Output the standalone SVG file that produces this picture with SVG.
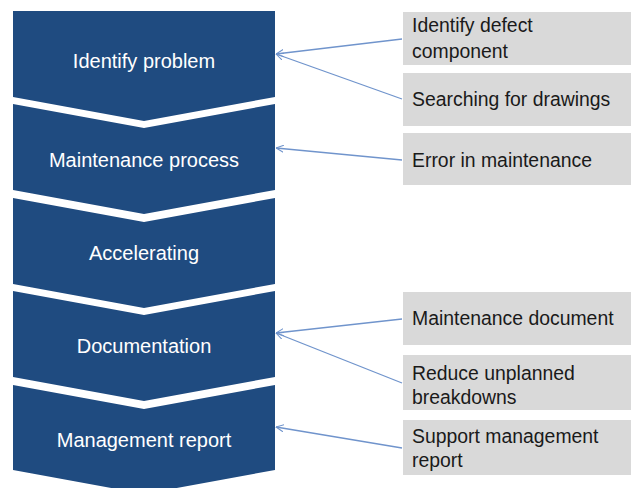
<svg xmlns="http://www.w3.org/2000/svg" width="633" height="488" viewBox="0 0 633 488">
  <defs>
    <style>
      .step { fill: #1f4b80; }
      .step-label { font-family: "Liberation Sans", Arial, sans-serif; font-size: 20px; fill: #ffffff; text-anchor: middle; }
      .note { fill: #d9d9d9; }
      .note-label { font-family: "Liberation Sans", Arial, sans-serif; font-size: 19.4px; fill: #1a1a1a; }
      .link { stroke: #7094cc; stroke-width: 1.3; fill: none; marker-end: url(#open-arrow); }
    </style>
    <marker id="open-arrow" viewBox="0 0 10 10" refX="9.5" refY="5" markerWidth="8" markerHeight="8" markerUnits="userSpaceOnUse" orient="auto">
      <path d="M0,0.5 L9.5,5 L0,9.5" fill="none" stroke="#7094cc" stroke-width="1.3"/>
    </marker>
  </defs>

  <!-- process chevrons -->
  <g id="step-identify-problem">
    <path class="step" d="M13,11 H275 V97 L144,121 L13,97 Z"/>
    <text class="step-label" x="144" y="68">Identify problem</text>
  </g>
  <g id="step-maintenance-process">
    <path class="step" d="M13,104 L144,128 L275,104 V190 L144,214 L13,190 Z"/>
    <text class="step-label" x="144" y="167">Maintenance process</text>
  </g>
  <g id="step-accelerating">
    <path class="step" d="M13,198 L144,222 L275,198 V284 L144,308 L13,284 Z"/>
    <text class="step-label" x="144" y="260">Accelerating</text>
  </g>
  <g id="step-documentation">
    <path class="step" d="M13,291 L144,315 L275,291 V377 L144,401 L13,377 Z"/>
    <text class="step-label" x="144" y="353">Documentation</text>
  </g>
  <g id="step-management-report">
    <path class="step" d="M13,385 L144,409 L275,385 V470 L144,494 L13,470 Z"/>
    <text class="step-label" x="144" y="447">Management report</text>
  </g>

  <!-- side notes -->
  <g id="note-identify-defect">
    <rect class="note" x="403" y="12" width="228" height="53"/>
    <text class="note-label" x="412" y="32">Identify defect</text>
    <text class="note-label" x="412" y="58">component</text>
  </g>
  <g id="note-searching-drawings">
    <rect class="note" x="403" y="73" width="228" height="53"/>
    <text class="note-label" x="412" y="106">Searching for drawings</text>
  </g>
  <g id="note-error-maintenance">
    <rect class="note" x="403" y="133" width="228" height="52"/>
    <text class="note-label" x="412" y="167">Error in maintenance</text>
  </g>
  <g id="note-maintenance-document">
    <rect class="note" x="403" y="292" width="228" height="53"/>
    <text class="note-label" x="412" y="325">Maintenance document</text>
  </g>
  <g id="note-reduce-breakdowns">
    <rect class="note" x="403" y="355" width="228" height="55"/>
    <text class="note-label" x="412" y="380">Reduce unplanned</text>
    <text class="note-label" x="412" y="404">breakdowns</text>
  </g>
  <g id="note-support-report">
    <rect class="note" x="403" y="420" width="228" height="55"/>
    <text class="note-label" x="412" y="443">Support management</text>
    <text class="note-label" x="412" y="467">report</text>
  </g>

  <!-- connectors -->
  <g id="connectors">
    <line class="link" x1="402" y1="39" x2="276" y2="54"/>
    <line class="link" x1="402" y1="99" x2="276" y2="54"/>
    <line class="link" x1="402" y1="160" x2="276" y2="148"/>
    <line class="link" x1="402" y1="319" x2="276" y2="333"/>
    <line class="link" x1="402" y1="383" x2="276" y2="333"/>
    <line class="link" x1="402" y1="448" x2="276" y2="427"/>
  </g>
</svg>
